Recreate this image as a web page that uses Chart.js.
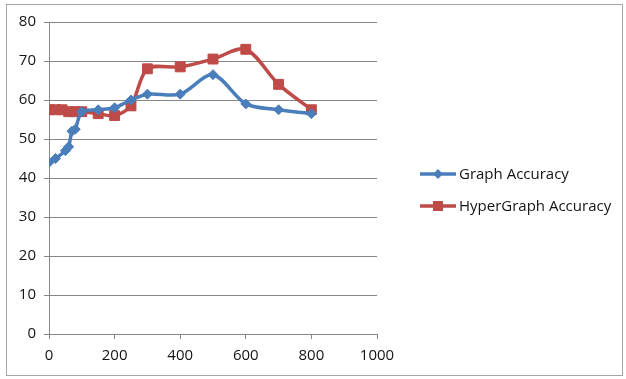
<!DOCTYPE html>
<html>
<head>
<meta charset="utf-8">
<script src="https://cdn.jsdelivr.net/npm/chart.js@4"></script>
<style>
  html, body { margin: 0; padding: 0; background: #fff; }
  #wrap { position: relative; width: 626px; height: 379px; }
  #frame { position: absolute; left: 6px; top: 4px; width: 617px; height: 372px; border: 1px solid #a6a6a6; box-sizing: border-box; pointer-events: none; }
  canvas { position: absolute; left: 0; top: 0; }
</style>
</head>
<body>
<div id="wrap">
  <canvas id="chart" width="626" height="379"></canvas>
  <div id="frame"></div>
</div>
<script>
// Graph accuracy against x
const graphX = [0, 20, 50, 60, 70, 80, 100, 150, 200, 250, 300, 400, 500, 600, 700, 800];
const graphY = [44, 45, 47, 48, 52, 52.5, 57, 57.5, 58, 60, 61.5, 61.5, 66.5, 59, 57.5, 56.5];

// Hypergraph accuracy against x
const hyperX = [0, 20, 40, 60, 80, 100, 150, 200, 250, 300, 400, 500, 600, 700, 800];
const hyperY = [57.5, 57.5, 57.5, 57, 57, 57, 56.5, 56, 58.5, 68, 68.5, 70.5, 73, 64, 57.5];

const seriesNames = ['Graph Accuracy', 'HyperGraph Accuracy'];
const xTicks = [0, 200, 400, 600, 800, 1000];
const yTicks = [0, 10, 20, 30, 40, 50, 60, 70, 80];

const BLUE = '#4a7ebb';
const RED = '#be4b48';
const FONT = '"Open Sans", "DejaVu Sans", sans-serif';
const TEXT = '#141414';

const toPoints = (xs, ys) => xs.map((x, i) => ({ x: x, y: ys[i] }));

// Legend drawn at the right, Excel style: a short line with the series marker
const sideLegend = {
  id: 'sideLegend',
  afterDraw(chart) {
    const ctx = chart.ctx;
    const rows = [174, 206];
    chart.data.datasets.forEach((ds, i) => {
      const y = rows[i];
      ctx.save();
      ctx.strokeStyle = ds.borderColor;
      ctx.lineWidth = 3.5;
      ctx.beginPath();
      ctx.moveTo(420, y);
      ctx.lineTo(456, y);
      ctx.stroke();
      ctx.fillStyle = ds.pointBackgroundColor;
      if (ds.pointStyle === 'rectRot') {
        ctx.beginPath();
        ctx.moveTo(438, y - 5);
        ctx.lineTo(443, y);
        ctx.lineTo(438, y + 5);
        ctx.lineTo(433, y);
        ctx.closePath();
        ctx.fill();
      } else {
        ctx.fillRect(433, y - 5, 10, 10);
      }
      ctx.fillStyle = TEXT;
      ctx.font = '15px ' + FONT;
      ctx.textBaseline = 'middle';
      ctx.textAlign = 'left';
      ctx.fillText(ds.label, 459, y + 1);
      ctx.restore();
    });
  }
};

new Chart(document.getElementById('chart'), {
  type: 'scatter',
  data: {
    datasets: [
      {
        label: seriesNames[0],
        data: toPoints(graphX, graphY),
        showLine: true,
        borderColor: BLUE,
        backgroundColor: BLUE,
        pointBackgroundColor: BLUE,
        pointBorderColor: BLUE,
        borderWidth: 3.5,
        tension: 0.3,
        pointStyle: 'rectRot',
        pointRadius: 5,
        pointBorderWidth: 1
      },
      {
        label: seriesNames[1],
        data: toPoints(hyperX, hyperY),
        showLine: true,
        borderColor: RED,
        backgroundColor: RED,
        pointBackgroundColor: RED,
        pointBorderColor: RED,
        borderWidth: 3.5,
        tension: 0.3,
        pointStyle: 'rect',
        pointRadius: 7,
        pointBorderWidth: 1
      }
    ]
  },
  options: {
    responsive: false,
    animation: false,
    events: [],
    layout: { padding: { left: 0, top: 22, right: 249, bottom: 0 } },
    plugins: {
      legend: { display: false },
      tooltip: { enabled: false }
    },
    scales: {
      x: {
        type: 'linear',
        min: 0,
        max: 1000,
        afterBuildTicks(scale) { scale.ticks = xTicks.map(v => ({ value: v })); },
        afterFit(scale) { scale.height = 45; },
        grid: { drawOnChartArea: false, drawTicks: true, tickLength: 5, color: '#868686' },
        border: { display: true, color: '#868686', width: 1 },
        ticks: { color: TEXT, font: { family: FONT, size: 15 }, padding: 8, maxRotation: 0, callback: v => String(v) }
      },
      y: {
        type: 'linear',
        min: 0,
        max: 80,
        afterBuildTicks(scale) { scale.ticks = yTicks.map(v => ({ value: v })); },
        afterFit(scale) { scale.width = 49; },
        grid: { drawOnChartArea: true, drawTicks: true, tickLength: 5, color: '#868686' },
        border: { display: true, color: '#868686', width: 1 },
        ticks: { color: TEXT, font: { family: FONT, size: 15 }, padding: 8, callback: v => String(v) }
      }
    }
  },
  plugins: [sideLegend]
});
</script>
</body>
</html>
